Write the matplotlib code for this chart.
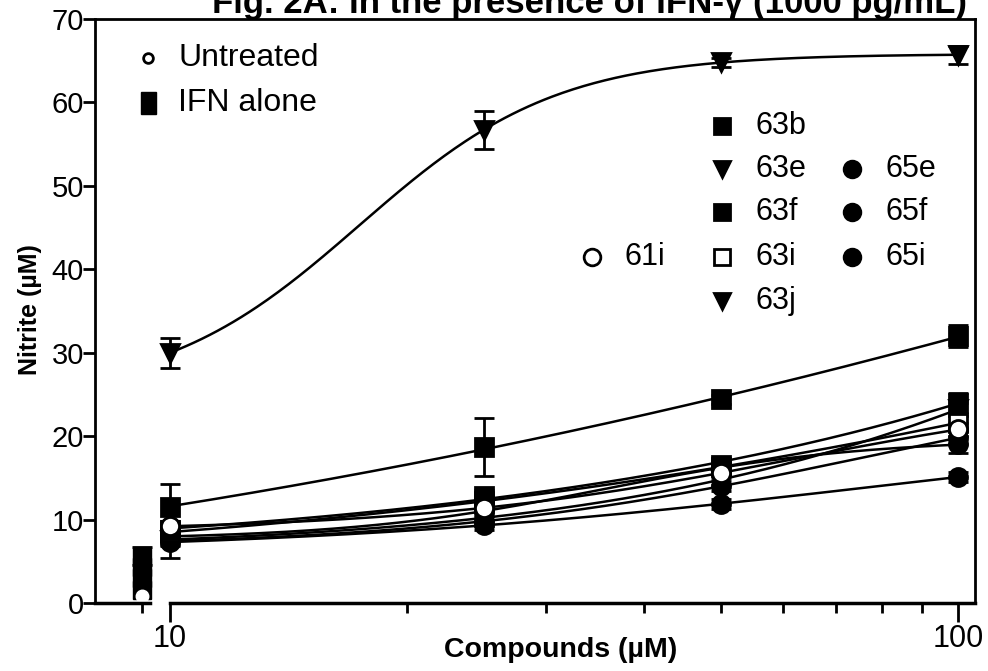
import numpy as np
import matplotlib
matplotlib.use("Agg")
import matplotlib.pyplot as plt
from matplotlib.ticker import FixedLocator, NullFormatter, FixedFormatter

plt.rcParams['font.family'] = ['Liberation Sans', 'DejaVu Sans']

# ---- data -------------------------------------------------------------
conc = [10, 25, 50, 100]          # compound concentration (µM)
ctrl_x = 9.2                       # position of the control group on the axis

untreated = [0.8]
ifn_alone = [5.6, 4.3, 3.0, 1.6]   # IFN-alone controls of the individual runs
ifn_alone_err = 1.1

compounds = ['61i', '63b', '63e', '63f', '63i', '63j', '65e', '65f', '65i']
nitrite = {
    '63j': [30.0, 56.7, 64.8, 65.7],
    '63b': [11.5, 18.7, 24.4, 32.0],
    '63f': [8.8, 12.8, 16.6, 24.0],
    '63i': [8.5, 12.2, 16.3, 21.6],
    '61i': [9.2, 11.4, 15.6, 20.8],
    '63e': [7.6, 10.2, 14.8, 23.2],
    '65i': [8.0, 11.0, 16.2, 19.0],
    '65f': [7.4, 9.8, 14.0, 19.8],
    '65e': [7.3, 9.3, 11.9, 15.1],
}
nitrite_err = {
    '63j': [1.8, 2.3, 0.5, 1.1],
    '63b': [2.8, 3.5, 0.5, 1.3],
    '63f': [1.0, 0.8, 0.6, 1.2],
    '63i': [0.6, 0.6, 0.6, 0.8],
    '61i': [0.6, 0.6, 0.6, 0.8],
    '63e': [0.6, 0.6, 0.6, 0.8],
    '65i': [0.6, 0.6, 0.6, 1.0],
    '65f': [0.6, 0.6, 0.6, 0.8],
    '65e': [1.9, 0.6, 0.6, 0.6],
}
styles = {
    '61i': dict(marker='o', mfc='white'),
    '63b': dict(marker='s', mfc='black'),
    '63e': dict(marker='v', mfc='black'),
    '63f': dict(marker='s', mfc='black'),
    '63i': dict(marker='s', mfc='white'),
    '63j': dict(marker='v', mfc='black'),
    '65e': dict(marker='o', mfc='black'),
    '65f': dict(marker='o', mfc='black'),
    '65i': dict(marker='o', mfc='black'),
}
draw_order = ['63j', '63b', '65e', '65f', '65i', '63e', '63i', '63f', '61i']


def fit_logistic(x, y):
    """Four-parameter logistic fit on log10(x) via grid search on EC50/Hill."""
    lx = np.log10(np.asarray(x, float))
    y = np.asarray(y, float)
    cs = np.linspace(0.6, 3.5, 300)
    hs = np.linspace(0.4, 3.5, 160)
    C, H = np.meshgrid(cs, hs, indexing='ij')
    C = C.ravel()[:, None]
    H = H.ravel()[:, None]
    s = 1.0 / (1.0 + 10 ** ((C - lx[None, :]) * H))
    sm = s.mean(axis=1, keepdims=True)
    ym = y.mean()
    var = ((s - sm) ** 2).sum(axis=1)
    cov = ((s - sm) * (y - ym)).sum(axis=1)
    slope = cov / np.where(var > 0, var, np.inf)
    inter = ym - slope * sm[:, 0]
    pred = inter[:, None] + slope[:, None] * s
    sse = ((pred - y) ** 2).sum(axis=1)
    i = int(np.argmin(sse))
    c, h, a, b = C[i, 0], H[i, 0], inter[i], slope[i]
    return lambda xx: a + b / (1.0 + 10 ** ((c - np.log10(xx)) * h))


# ---- figure -------------------------------------------------------------
W, Hpx = 988, 671
fig = plt.figure(figsize=(W / 100, Hpx / 100), dpi=100)
ax = fig.add_axes([95 / W, 1 - 603 / Hpx, 880 / W, 584 / Hpx])
ax.set_xscale('log')
xmin, xmax = 8.03, 105.1
ax.set_xlim(xmin, xmax)
ax.set_ylim(0, 70)

xs = np.logspace(1, 2, 300)
ms = 13
for name in draw_order:
    f = fit_logistic(conc, nitrite[name])
    ax.plot(xs, f(xs), color='black', lw=1.8, zorder=2)
for name in draw_order:
    st = styles[name]
    ax.errorbar(conc, nitrite[name], yerr=nitrite_err[name], fmt='none',
                ecolor='black', elinewidth=2, capsize=7, capthick=2, zorder=3)
    ax.plot(conc, nitrite[name], linestyle='none', marker=st['marker'],
            markersize=ms, markerfacecolor=st['mfc'], markeredgecolor='black',
            markeredgewidth=2, zorder=4)

# control group
ax.errorbar([ctrl_x], [ifn_alone[0]], yerr=ifn_alone_err, fmt='none',
            ecolor='black', elinewidth=2, capsize=7, capthick=2, zorder=3)
ax.plot([ctrl_x] * len(ifn_alone), ifn_alone, linestyle='none', marker='s',
        markersize=ms, mfc='black', mec='black', zorder=4)
ax.plot([ctrl_x], untreated, linestyle='none', marker='o', markersize=9,
        mfc='white', mec='white', zorder=5)

# axes styling
for side in ('top', 'right', 'left'):
    ax.spines[side].set_linewidth(2)
ax.spines['bottom'].set_visible(False)
# broken x axis: control segment and concentration segment
ax.plot([xmin, 9.43], [0, 0], color='black', lw=2.5, clip_on=False, zorder=6)
ax.plot([10, xmax], [0, 0], color='black', lw=2.5, clip_on=False, zorder=6)

ax.set_yticks(np.arange(0, 71, 10))
ax.tick_params(axis='y', which='major', direction='out', length=9, width=2,
               labelsize=21, pad=-1)
ax.xaxis.set_major_locator(FixedLocator([10, 100]))
ax.xaxis.set_major_formatter(FixedFormatter(['10', '100']))
ax.xaxis.set_minor_locator(FixedLocator([ctrl_x, 20, 30, 40, 50, 60, 70, 80, 90]))
ax.xaxis.set_minor_formatter(NullFormatter())
ax.tick_params(axis='x', which='major', direction='out', length=14, width=2,
               labelsize=22, pad=1)
ax.tick_params(axis='x', which='minor', direction='out', length=7, width=2)

fig.text(30 / W, 1 - 310 / Hpx, 'Nitrite (µM)', fontsize=18, fontweight='bold',
         rotation=90, ha='center', va='center')
fig.text(561 / W, 1 - 650 / Hpx, 'Compounds (µM)', fontsize=20.5,
         fontweight='bold', ha='center', va='center')
fig.text(589 / W, 1 - 13 / Hpx, 'Fig. 2A: In the presence of IFN-γ (1000 pg/mL)',
         fontsize=25, fontweight='bold', ha='center', va='baseline')


# ---- legends (marker + label, placed in axes fraction) -------------------
def ax_frac(px, py):
    return (px - 95) / 880, (603 - py) / 584


def legend_item(px, py, tx, label, marker, mfc, size=13, fs=22):
    x, y = ax_frac(px, py)
    ax.plot([x], [y], transform=ax.transAxes, marker=marker, markersize=size,
            mfc=mfc, mec='black', mew=2, linestyle='none', clip_on=False, zorder=7)
    xt, _ = ax_frac(tx, py)
    ax.text(xt, y, label, transform=ax.transAxes, fontsize=fs, va='center',
            ha='left', zorder=7)


legend_item(148, 58, 178, 'Untreated', 'o', 'white', size=7, fs=23)
x0, y0 = ax_frac(148, 103)
ax.add_patch(plt.Rectangle((x0 - 7.5 / 880, y0 - 11 / 584), 15 / 880, 22 / 584,
                           transform=ax.transAxes, color='black', clip_on=False))
ax.text(ax_frac(178, 103)[0], y0, 'IFN alone', transform=ax.transAxes,
        fontsize=23, va='center', ha='left')

legend_item(592, 257, 624, '61i', 'o', 'white', size=12)
col2 = [('63b', 126), ('63e', 169), ('63f', 212), ('63i', 257), ('63j', 301)]
for name, py in col2:
    legend_item(722, py, 755, name, styles[name]['marker'], styles[name]['mfc'], size=12)
col3 = [('65e', 169), ('65f', 212), ('65i', 257)]
for name, py in col3:
    legend_item(852, py, 885, name, styles[name]['marker'], styles[name]['mfc'], size=12)

fig.savefig('out.png', dpi=100)
